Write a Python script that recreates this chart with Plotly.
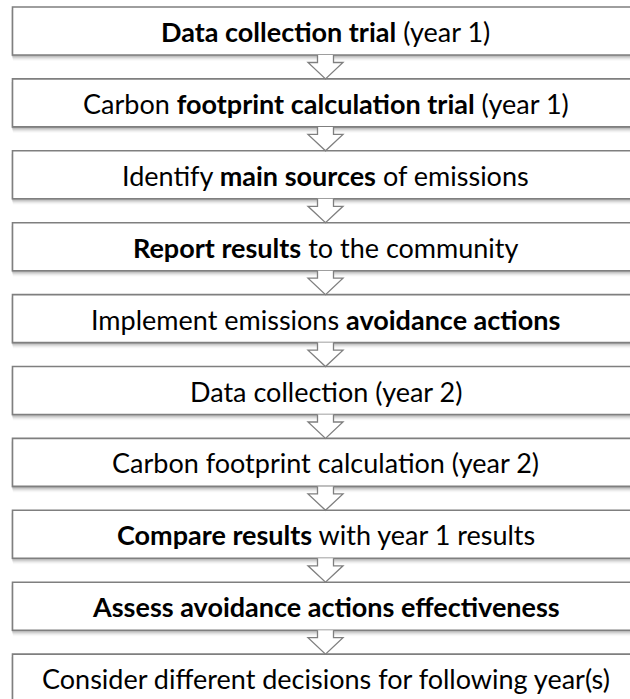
import plotly.graph_objects as go

steps = [
    "<b>Data collection trial</b> (year 1)",
    "Carbon <b>footprint calculation trial</b> (year 1)",
    "Identify <b>main sources</b> of emissions",
    "<b>Report results</b> to the community",
    "Implement emissions <b>avoidance actions</b>",
    "Data collection (year 2)",
    "Carbon footprint calculation (year 2)",
    "<b>Compare results</b> with year 1 results",
    "<b>Assess avoidance actions effectiveness</b>",
    "Consider different decisions for following year(s)",
]

W, H = 630, 699
X0, X1 = 12.5, 640
TOP0, PITCH, BH = 7, 71.9, 48
CX = 325.5
LINE = "#7f7f7f"
FONT_SIZE = 27

shapes = []
annotations = []
for i, label in enumerate(steps):
    t = TOP0 + PITCH * i
    b = t + BH
    for k, op in enumerate([0.10, 0.09, 0.07, 0.05, 0.035, 0.02]):
        shapes.append(dict(type="rect", x0=X0 - 1 + k * 0.3, x1=X1 + 5, y0=t + 3, y1=b + 1 + k,
                           line=dict(width=0), fillcolor=f"rgba(0,0,0,{op})", layer="below"))
    shapes.append(dict(type="rect", x0=X0, x1=X1, y0=t, y1=b,
                       line=dict(color=LINE, width=1.6), fillcolor="white", layer="below"))
    annotations.append(dict(x=CX, y=t + BH / 2 + 0.5, xref="x", yref="y", text=label,
                            showarrow=False, font=dict(family="Lato", size=FONT_SIZE, color="black"),
                            xanchor="center", yanchor="middle"))
    if i < len(steps) - 1:
        nt = TOP0 + PITCH * (i + 1)
        sw, hw = 8, 17.5
        hy = b + 7.5
        path = (f"M {CX - sw},{b} L {CX - sw},{hy} L {CX - hw},{hy} L {CX},{nt} "
                f"L {CX + hw},{hy} L {CX + sw},{hy} L {CX + sw},{b}")
        shapes.append(dict(type="path", path=path, line=dict(color=LINE, width=1.3),
                           fillcolor="white", layer="above"))

fig = go.Figure()
fig.update_layout(
    width=W, height=H, margin=dict(l=0, r=0, t=0, b=0),
    paper_bgcolor="white", plot_bgcolor="white",
    xaxis=dict(range=[0, W], visible=False, fixedrange=True),
    yaxis=dict(range=[H, 0], visible=False, fixedrange=True),
    shapes=shapes, annotations=annotations, showlegend=False,
)
fig.write_html("out.html", config={"displayModeBar": False},
               post_script="document.body.style.margin='0';document.body.style.overflow='hidden';")
